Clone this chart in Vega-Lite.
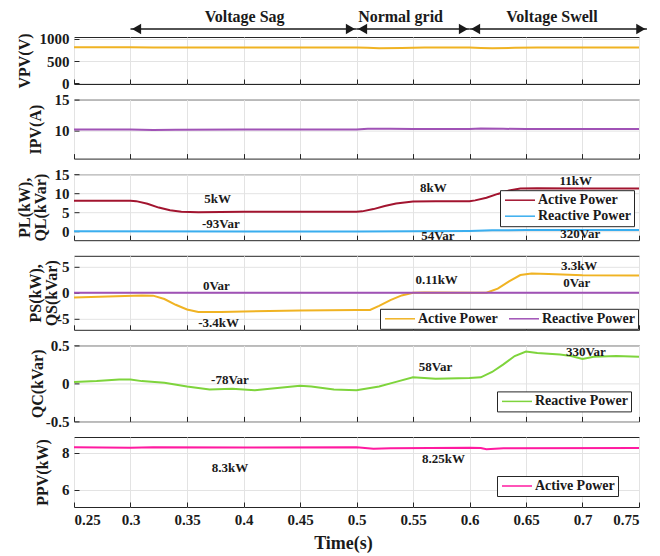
{
  "$schema": "https://vega.github.io/schema/vega-lite/v6.json",
  "padding": {"left": 15, "top": 8, "right": 5, "bottom": 5},
  "spacing": 15.6,
  "bounds": "flush",
  "background": "white",
  "datasets": {
    "p1": [
      {"t": 0.25, "v": 810}, {"t": 0.3, "v": 810}, {"t": 0.32, "v": 805}, {"t": 0.35, "v": 808},
      {"t": 0.4, "v": 808}, {"t": 0.45, "v": 808}, {"t": 0.5, "v": 808}, {"t": 0.51, "v": 800},
      {"t": 0.52, "v": 792}, {"t": 0.54, "v": 798}, {"t": 0.56, "v": 805}, {"t": 0.6, "v": 806},
      {"t": 0.61, "v": 798}, {"t": 0.62, "v": 792}, {"t": 0.64, "v": 800}, {"t": 0.66, "v": 805},
      {"t": 0.7, "v": 805}, {"t": 0.75, "v": 805}
    ],
    "p2": [
      {"t": 0.25, "v": 10.2}, {"t": 0.3, "v": 10.2}, {"t": 0.32, "v": 10.1}, {"t": 0.34, "v": 10.15},
      {"t": 0.4, "v": 10.2}, {"t": 0.5, "v": 10.2}, {"t": 0.51, "v": 10.3}, {"t": 0.53, "v": 10.3},
      {"t": 0.55, "v": 10.25}, {"t": 0.6, "v": 10.25}, {"t": 0.61, "v": 10.35}, {"t": 0.63, "v": 10.3},
      {"t": 0.65, "v": 10.25}, {"t": 0.75, "v": 10.25}
    ],
    "p3": [
      {"t": 0.25, "v": 8, "s": "Active Power"}, {"t": 0.3, "v": 8, "s": "Active Power"},
      {"t": 0.305, "v": 7.9, "s": "Active Power"}, {"t": 0.315, "v": 7.2, "s": "Active Power"},
      {"t": 0.325, "v": 6.2, "s": "Active Power"}, {"t": 0.335, "v": 5.5, "s": "Active Power"},
      {"t": 0.345, "v": 5.1, "s": "Active Power"}, {"t": 0.36, "v": 5.0, "s": "Active Power"},
      {"t": 0.4, "v": 5.1, "s": "Active Power"}, {"t": 0.45, "v": 5.1, "s": "Active Power"},
      {"t": 0.5, "v": 5.1, "s": "Active Power"}, {"t": 0.505, "v": 5.2, "s": "Active Power"},
      {"t": 0.515, "v": 5.8, "s": "Active Power"}, {"t": 0.525, "v": 6.6, "s": "Active Power"},
      {"t": 0.535, "v": 7.3, "s": "Active Power"}, {"t": 0.55, "v": 7.8, "s": "Active Power"},
      {"t": 0.57, "v": 7.9, "s": "Active Power"}, {"t": 0.6, "v": 7.9, "s": "Active Power"},
      {"t": 0.605, "v": 8.1, "s": "Active Power"}, {"t": 0.615, "v": 8.8, "s": "Active Power"},
      {"t": 0.625, "v": 9.8, "s": "Active Power"}, {"t": 0.635, "v": 10.7, "s": "Active Power"},
      {"t": 0.645, "v": 11.2, "s": "Active Power"}, {"t": 0.66, "v": 11.3, "s": "Active Power"},
      {"t": 0.7, "v": 11.2, "s": "Active Power"}, {"t": 0.75, "v": 11.2, "s": "Active Power"},
      {"t": 0.25, "v": -0.05, "s": "Reactive Power"}, {"t": 0.5, "v": -0.1, "s": "Reactive Power"},
      {"t": 0.55, "v": -0.05, "s": "Reactive Power"}, {"t": 0.6, "v": 0.05, "s": "Reactive Power"},
      {"t": 0.62, "v": 0.2, "s": "Reactive Power"}, {"t": 0.65, "v": 0.3, "s": "Reactive Power"},
      {"t": 0.75, "v": 0.32, "s": "Reactive Power"}
    ],
    "p4": [
      {"t": 0.25, "v": -0.9, "s": "Active Power"}, {"t": 0.28, "v": -0.7, "s": "Active Power"},
      {"t": 0.31, "v": -0.5, "s": "Active Power"}, {"t": 0.32, "v": -0.55, "s": "Active Power"},
      {"t": 0.33, "v": -1.2, "s": "Active Power"}, {"t": 0.34, "v": -2.3, "s": "Active Power"},
      {"t": 0.35, "v": -3.2, "s": "Active Power"}, {"t": 0.36, "v": -3.7, "s": "Active Power"},
      {"t": 0.38, "v": -3.7, "s": "Active Power"}, {"t": 0.4, "v": -3.6, "s": "Active Power"},
      {"t": 0.45, "v": -3.4, "s": "Active Power"}, {"t": 0.5, "v": -3.3, "s": "Active Power"},
      {"t": 0.512, "v": -3.3, "s": "Active Power"}, {"t": 0.52, "v": -2.5, "s": "Active Power"},
      {"t": 0.53, "v": -1.4, "s": "Active Power"}, {"t": 0.54, "v": -0.5, "s": "Active Power"},
      {"t": 0.55, "v": 0, "s": "Active Power"}, {"t": 0.56, "v": 0.05, "s": "Active Power"},
      {"t": 0.6, "v": 0, "s": "Active Power"}, {"t": 0.615, "v": 0, "s": "Active Power"},
      {"t": 0.625, "v": 0.8, "s": "Active Power"}, {"t": 0.635, "v": 2.2, "s": "Active Power"},
      {"t": 0.645, "v": 3.4, "s": "Active Power"}, {"t": 0.655, "v": 3.7, "s": "Active Power"},
      {"t": 0.67, "v": 3.6, "s": "Active Power"}, {"t": 0.7, "v": 3.35, "s": "Active Power"},
      {"t": 0.75, "v": 3.3, "s": "Active Power"},
      {"t": 0.25, "v": 0, "s": "Reactive Power"}, {"t": 0.75, "v": 0, "s": "Reactive Power"}
    ],
    "p5": [
      {"t": 0.25, "v": 0.02, "s": "Reactive Power"}, {"t": 0.27, "v": 0.03, "s": "Reactive Power"},
      {"t": 0.29, "v": 0.05, "s": "Reactive Power"}, {"t": 0.3, "v": 0.05, "s": "Reactive Power"},
      {"t": 0.31, "v": 0.03, "s": "Reactive Power"}, {"t": 0.33, "v": 0.01, "s": "Reactive Power"},
      {"t": 0.35, "v": -0.04, "s": "Reactive Power"}, {"t": 0.37, "v": -0.08, "s": "Reactive Power"},
      {"t": 0.39, "v": -0.07, "s": "Reactive Power"}, {"t": 0.41, "v": -0.09, "s": "Reactive Power"},
      {"t": 0.43, "v": -0.06, "s": "Reactive Power"}, {"t": 0.45, "v": -0.03, "s": "Reactive Power"},
      {"t": 0.46, "v": -0.04, "s": "Reactive Power"}, {"t": 0.48, "v": -0.08, "s": "Reactive Power"},
      {"t": 0.5, "v": -0.09, "s": "Reactive Power"}, {"t": 0.52, "v": -0.04, "s": "Reactive Power"},
      {"t": 0.535, "v": 0.02, "s": "Reactive Power"}, {"t": 0.55, "v": 0.08, "s": "Reactive Power"},
      {"t": 0.57, "v": 0.06, "s": "Reactive Power"}, {"t": 0.6, "v": 0.07, "s": "Reactive Power"},
      {"t": 0.61, "v": 0.08, "s": "Reactive Power"}, {"t": 0.62, "v": 0.15, "s": "Reactive Power"},
      {"t": 0.63, "v": 0.25, "s": "Reactive Power"}, {"t": 0.64, "v": 0.36, "s": "Reactive Power"},
      {"t": 0.65, "v": 0.42, "s": "Reactive Power"}, {"t": 0.66, "v": 0.4, "s": "Reactive Power"},
      {"t": 0.68, "v": 0.38, "s": "Reactive Power"}, {"t": 0.69, "v": 0.36, "s": "Reactive Power"},
      {"t": 0.7, "v": 0.32, "s": "Reactive Power"}, {"t": 0.71, "v": 0.35, "s": "Reactive Power"},
      {"t": 0.73, "v": 0.36, "s": "Reactive Power"}, {"t": 0.75, "v": 0.35, "s": "Reactive Power"}
    ],
    "p6": [
      {"t": 0.25, "v": 8.3, "s": "Active Power"}, {"t": 0.3, "v": 8.28, "s": "Active Power"},
      {"t": 0.32, "v": 8.31, "s": "Active Power"}, {"t": 0.4, "v": 8.29, "s": "Active Power"},
      {"t": 0.5, "v": 8.3, "s": "Active Power"}, {"t": 0.505, "v": 8.28, "s": "Active Power"},
      {"t": 0.515, "v": 8.22, "s": "Active Power"}, {"t": 0.53, "v": 8.25, "s": "Active Power"},
      {"t": 0.6, "v": 8.28, "s": "Active Power"}, {"t": 0.61, "v": 8.26, "s": "Active Power"},
      {"t": 0.615, "v": 8.2, "s": "Active Power"}, {"t": 0.63, "v": 8.25, "s": "Active Power"},
      {"t": 0.75, "v": 8.27, "s": "Active Power"}
    ]
  },
  "resolve": {"scale": {"color": "independent", "shape": "independent"}, "legend": {"color": "independent"}},
  "vconcat": [
    {
      "width": 565, "height": 47,
      "encoding": {
        "x": {"field": "t", "type": "quantitative", "scale": {"domain": [0.25, 0.75], "nice": false, "zero": false},
              "axis": {"values": [0.25, 0.3, 0.35, 0.4, 0.45, 0.5, 0.55, 0.6, 0.65, 0.7, 0.75], "labels": false, "title": null}},
        "y": {"field": "v", "type": "quantitative", "scale": {"domain": [-20, 1045], "nice": false, "zero": false},
              "axis": {"values": [0, 500, 1000], "labelExpr": "'' + datum.value", "title": "VPV(V)", "titleX": -50, "titleY": 23.5, "titleBaseline": "middle", "titleAlign": "center"}}
      },
      "layer": [
        {"data": {"name": "p1"}, "mark": {"type": "line", "color": "#F0B323", "strokeWidth": 2}},
        {"data": {"values": [
            {"t": 0.3, "t2": 0.5, "v": 1226}, {"t": 0.5, "t2": 0.6, "v": 1226}, {"t": 0.6, "t2": 0.757, "v": 1226}]},
         "mark": {"type": "rule", "color": "#1a1a1a", "strokeWidth": 1.5},
         "encoding": {"x2": {"field": "t2"}}},
        {"data": {"values": [
            {"t": 0.3054, "v": 1226, "dir": "l"}, {"t": 0.4946, "v": 1226, "dir": "r"},
            {"t": 0.5054, "v": 1226, "dir": "l"}, {"t": 0.5946, "v": 1226, "dir": "r"},
            {"t": 0.6054, "v": 1226, "dir": "l"}, {"t": 0.7516, "v": 1226, "dir": "r"}]},
         "mark": {"type": "point", "filled": true, "color": "#1a1a1a", "opacity": 1, "size": 110},
         "encoding": {"shape": {"field": "dir", "type": "nominal", "scale": {"domain": ["l", "r"], "range": ["triangle-left", "triangle-right"]}, "legend": null}}},
        {"data": {"values": [
            {"t": 0.401, "v": 1498, "label": "Voltage Sag"}, {"t": 0.539, "v": 1498, "label": "Normal grid"},
            {"t": 0.673, "v": 1498, "label": "Voltage Swell"}]},
         "mark": {"type": "text", "font": "Liberation Serif", "fontWeight": "bold", "fontSize": 16, "color": "#1a1a1a", "baseline": "middle"},
         "encoding": {"text": {"field": "label"}}}
      ]
    },
    {
      "width": 565, "height": 59,
      "encoding": {
        "x": {"field": "t", "type": "quantitative", "scale": {"domain": [0.25, 0.75], "nice": false, "zero": false},
              "axis": {"values": [0.25, 0.3, 0.35, 0.4, 0.45, 0.5, 0.55, 0.6, 0.65, 0.7, 0.75], "labels": false, "title": null}},
        "y": {"field": "v", "type": "quantitative", "scale": {"domain": [5.5, 15], "nice": false, "zero": false},
              "axis": {"values": [10, 15], "labelExpr": "'' + datum.value", "title": "IPV(A)", "titleX": -39, "titleY": 29.5, "titleBaseline": "middle", "titleAlign": "center"}}
      },
      "layer": [
        {"data": {"name": "p2"}, "mark": {"type": "line", "color": "#A052B6", "strokeWidth": 2}}
      ]
    },
    {
      "width": 565, "height": 66,
      "encoding": {
        "x": {"field": "t", "type": "quantitative", "scale": {"domain": [0.25, 0.75], "nice": false, "zero": false},
              "axis": {"values": [0.25, 0.3, 0.35, 0.4, 0.45, 0.5, 0.55, 0.6, 0.65, 0.7, 0.75], "labels": false, "title": null}},
        "y": {"field": "v", "type": "quantitative", "scale": {"domain": [-2.4, 15], "nice": false, "zero": false},
              "axis": {"values": [0, 5, 10, 15], "labelExpr": "'' + datum.value", "title": ["PL(kW),", "QL(kVar)"], "titleX": -50, "titleY": 33, "titleBaseline": "middle", "titleAlign": "center", "titleLineHeight": 16}}
      },
      "layer": [
        {"data": {"name": "p3"}, "mark": {"type": "line", "strokeWidth": 2},
         "encoding": {"color": {"field": "s", "type": "nominal", "scale": {"domain": ["Active Power", "Reactive Power"], "range": ["#A2142F", "#3AAEEF"]},
                                "legend": {"title": null, "orient": "none", "legendX": 426, "legendY": 16}}}},
        {"data": {"values": [
            {"t": 0.377, "v": 8.4, "label": "5kW"}, {"t": 0.38, "v": 1.8, "label": "-93Var"},
            {"t": 0.568, "v": 11.3, "label": "8kW"}, {"t": 0.572, "v": -1.3, "label": "54Var"},
            {"t": 0.694, "v": 13.2, "label": "11kW"}, {"t": 0.698, "v": -0.8, "label": "320Var"}]},
         "mark": {"type": "text", "font": "Liberation Serif", "fontWeight": "bold", "fontSize": 13, "color": "#1a1a1a", "baseline": "middle"},
         "encoding": {"text": {"field": "label"}}}
      ]
    },
    {
      "width": 565, "height": 74,
      "encoding": {
        "x": {"field": "t", "type": "quantitative", "scale": {"domain": [0.25, 0.75], "nice": false, "zero": false},
              "axis": {"values": [0.25, 0.3, 0.35, 0.4, 0.45, 0.5, 0.55, 0.6, 0.65, 0.7, 0.75], "labels": false, "title": null}},
        "y": {"field": "v", "type": "quantitative", "scale": {"domain": [-7.1, 7.1], "nice": false, "zero": false},
              "axis": {"values": [-5, 0, 5], "labelExpr": "'' + datum.value", "title": ["PS(kW),", "QS(kVar)"], "titleX": -39, "titleY": 37, "titleBaseline": "middle", "titleAlign": "center", "titleLineHeight": 16}}
      },
      "layer": [
        {"data": {"name": "p4"}, "mark": {"type": "line", "strokeWidth": 2},
         "encoding": {"color": {"field": "s", "type": "nominal", "scale": {"domain": ["Active Power", "Reactive Power"], "range": ["#F0B323", "#A052B6"]},
                                "legend": {"title": null, "orient": "none", "direction": "horizontal", "legendX": 306, "legendY": 53, "columnPadding": 8}}}},
        {"data": {"values": [
            {"t": 0.376, "v": 1.35, "label": "0Var"}, {"t": 0.378, "v": -5.7, "label": "-3.4kW"},
            {"t": 0.571, "v": 2.5, "label": "0.11kW"}, {"t": 0.697, "v": 5.2, "label": "3.3kW"},
            {"t": 0.695, "v": 1.8, "label": "0Var"}]},
         "mark": {"type": "text", "font": "Liberation Serif", "fontWeight": "bold", "fontSize": 13, "color": "#1a1a1a", "baseline": "middle"},
         "encoding": {"text": {"field": "label"}}}
      ]
    },
    {
      "width": 565, "height": 76,
      "encoding": {
        "x": {"field": "t", "type": "quantitative", "scale": {"domain": [0.25, 0.75], "nice": false, "zero": false},
              "axis": {"values": [0.25, 0.3, 0.35, 0.4, 0.45, 0.5, 0.55, 0.6, 0.65, 0.7, 0.75], "labels": false, "title": null}},
        "y": {"field": "v", "type": "quantitative", "scale": {"domain": [-0.5, 0.5], "nice": false, "zero": false},
              "axis": {"values": [-0.5, 0, 0.5], "labelExpr": "'' + datum.value", "title": "QC(kVar)", "titleX": -37, "titleY": 38, "titleBaseline": "middle", "titleAlign": "center"}}
      },
      "layer": [
        {"data": {"name": "p5"}, "mark": {"type": "line", "strokeWidth": 2},
         "encoding": {"color": {"field": "s", "type": "nominal", "scale": {"domain": ["Reactive Power"], "range": ["#7ED43C"]},
                                "legend": {"title": null, "orient": "none", "legendX": 423, "legendY": 46}}}},
        {"data": {"values": [
            {"t": 0.388, "v": 0.04, "label": "-78Var"}, {"t": 0.57, "v": 0.22, "label": "58Var"},
            {"t": 0.703, "v": 0.41, "label": "330Var"}]},
         "mark": {"type": "text", "font": "Liberation Serif", "fontWeight": "bold", "fontSize": 13, "color": "#1a1a1a", "baseline": "middle"},
         "encoding": {"text": {"field": "label"}}}
      ]
    },
    {
      "width": 565, "height": 70,
      "encoding": {
        "x": {"field": "t", "type": "quantitative", "scale": {"domain": [0.25, 0.75], "nice": false, "zero": false},
              "axis": {"values": [0.25, 0.3, 0.35, 0.4, 0.45, 0.5, 0.55, 0.6, 0.65, 0.7, 0.75], "labelExpr": "'' + datum.value", "title": "Time(s)", "titleFontSize": 18, "labelFontSize": 15, "titleX": 269, "titleY": 36, "titleBaseline": "middle", "titleAlign": "center"}},
        "y": {"field": "v", "type": "quantitative", "scale": {"domain": [5.08, 8.86], "nice": false, "zero": false},
              "axis": {"values": [6, 8], "labelExpr": "'' + datum.value", "title": "PPV(kW)", "titleX": -32, "titleY": 35, "titleBaseline": "middle", "titleAlign": "center"}}
      },
      "layer": [
        {"data": {"name": "p6"}, "mark": {"type": "line", "strokeWidth": 2},
         "encoding": {"color": {"field": "s", "type": "nominal", "scale": {"domain": ["Active Power"], "range": ["#FF1AA0"]},
                                "legend": {"title": null, "orient": "none", "legendX": 423, "legendY": 39}}}},
        {"data": {"values": [
            {"t": 0.388, "v": 7.2, "label": "8.3kW"}, {"t": 0.577, "v": 7.68, "label": "8.25kW"}]},
         "mark": {"type": "text", "font": "Liberation Serif", "fontWeight": "bold", "fontSize": 13, "color": "#1a1a1a", "baseline": "middle"},
         "encoding": {"text": {"field": "label"}}}
      ]
    }
  ],
  "config": {
    "font": "Liberation Serif",
    "view": {"stroke": "#262626", "strokeWidth": 1},
    "axis": {
      "labelFont": "Liberation Serif", "labelFontWeight": "bold", "labelFontSize": 15, "labelColor": "#1a1a1a",
      "titleFont": "Liberation Serif", "titleFontWeight": "bold", "titleFontSize": 16, "titleColor": "#1a1a1a",
      "domain": false, "gridColor": "#e3e3e3", "gridWidth": 1, "tickColor": "#262626", "tickSize": -5, "tickWidth": 1,
      "labelPadding": 10
    },
    "legend": {
      "labelFont": "Liberation Serif", "labelFontWeight": "bold", "labelFontSize": 14, "labelColor": "#1a1a1a",
      "fillColor": "white", "strokeColor": "#262626", "padding": 3,
      "symbolType": "M-3,0L3,0", "symbolSize": 100, "symbolOffset": 10, "labelOffset": 11,
      "symbolStrokeWidth": 1.5, "rowPadding": 2
    }
  }
}
